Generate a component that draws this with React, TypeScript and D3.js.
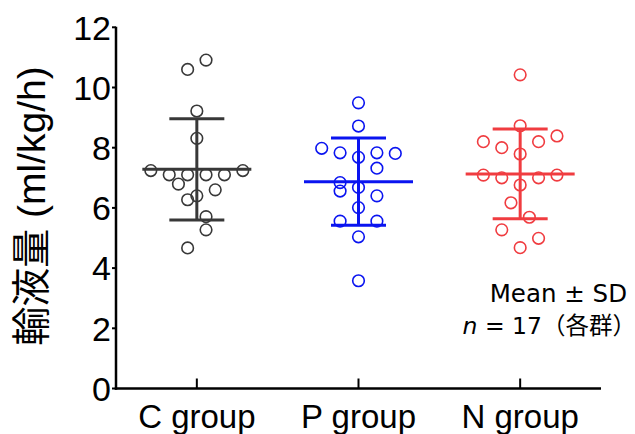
import React from "react";
import * as d3 from "d3";

const categories = ["C group", "P group", "N group"];
const colors = ["#383838", "#0a14f0", "#f03c40"];

const cValues = [10.6, 10.91, 9.22, 8.31, 7.24, 7.24, 7.1, 7.1, 7.1, 7.1, 6.79, 6.6, 6.4, 6.27, 5.71, 5.27, 4.67];
const cSlots = [-1, 1, 0, 0, -5, 5, -3, -1, 1, 3, -2, 2, 0, -1, 1, 1, -1];

const pValues = [9.49, 8.72, 7.98, 7.83, 7.68, 7.83, 7.81, 7.32, 6.84, 6.56, 6.68, 6.4, 6.01, 5.56, 5.56, 5.04, 3.58];
const pSlots = [0, 0, -4, -2, 0, 2, 4, 2, -2, -2, 0, 2, 0, -2, 2, 0, 0];

const nValues = [10.42, 8.73, 8.2, 8.2, 8.39, 8.0, 7.79, 7.09, 7.0, 7.0, 7.09, 6.76, 6.17, 5.69, 5.27, 4.99, 4.68];
const nSlots = [0, 0, -4, 2, 4, -2, 0, -4, -2, 2, 4, 0, -1, 1, -2, 2, 0];

const means = [7.28, 6.87, 7.13];
const sds = [1.68, 1.45, 1.49];

const yTicks = [0, 2, 4, 6, 8, 10, 12];

const yLabel = "輸液量 (ml/kg/h)";
const noteLine1 = "Mean ± SD";

const W = 635;
const H = 434;

export default function App() {
  const x = d3.scalePoint<string>().domain(categories).range([116, 601]).padding(0.5);
  const y = d3.scaleLinear().domain([0, 12]).range([388.5, 27.3]);
  const slotW = 9.2;
  const groups = [
    { vals: cValues, slots: cSlots },
    { vals: pValues, slots: pSlots },
    { vals: nValues, slots: nSlots },
  ];
  const sans = "'Liberation Sans', Arial, 'Noto Sans CJK JP', sans-serif";
  const x0 = 116;
  const x1 = 601;
  const y0 = y(0);

  return (
    <svg
      width={W}
      height={H}
      style={{ position: "absolute", left: 0, top: 0, background: "#fff" }}
    >
      {/* axes */}
      <line x1={x0} x2={x0} y1={y(12) - 0.5} y2={y0 + 1.2} stroke="#000" strokeWidth={2.5} />
      <line x1={x0 - 1.2} x2={x1} y1={y0} y2={y0} stroke="#000" strokeWidth={2.5} />
      {yTicks.map((t) => (
        <g key={t}>
          <line x1={x0 - 4} x2={x0} y1={y(t)} y2={y(t)} stroke="#000" strokeWidth={2} />
          <text
            x={111}
            y={y(t)}
            dy="0.36em"
            textAnchor="end"
            fontFamily={sans}
            fontSize={34}
            fill="#000"
          >
            {t}
          </text>
        </g>
      ))}
      {categories.map((c) => (
        <g key={c}>
          <line x1={x(c)!} x2={x(c)!} y1={y0} y2={y0 - 10} stroke="#000" strokeWidth={2} />
          <text
            x={x(c)!}
            y={428}
            textAnchor="middle"
            fontFamily={sans}
            fontSize={33}
            fill="#000"
          >
            {c}
          </text>
        </g>
      ))}
      {/* y label */}
      <text
        transform={`translate(45, 206) rotate(-90)`}
        textAnchor="middle"
        fontFamily={sans}
        fontSize={39}
        fill="#000"
      >
        {yLabel}
      </text>
      {/* groups */}
      {groups.map((g, gi) => {
        const cx = x(categories[gi])!;
        const col = colors[gi];
        const m = means[gi];
        const s = sds[gi];
        return (
          <g key={gi}>
            {g.vals.map((v, i) => (
              <circle
                key={i}
                cx={cx + g.slots[i] * slotW}
                cy={y(v)}
                r={5.8}
                fill="none"
                stroke={col}
                strokeWidth={1.6}
              />
            ))}
            <line x1={cx} x2={cx} y1={y(m + s)} y2={y(m - s)} stroke={col} strokeWidth={3} />
            <line x1={cx - 54.5} x2={cx + 54.5} y1={y(m)} y2={y(m)} stroke={col} strokeWidth={3} />
            <line x1={cx - 27.5} x2={cx + 27.5} y1={y(m + s)} y2={y(m + s)} stroke={col} strokeWidth={3} />
            <line x1={cx - 27.5} x2={cx + 27.5} y1={y(m - s)} y2={y(m - s)} stroke={col} strokeWidth={3} />
          </g>
        );
      })}
      {/* note */}
      <text
        x={627}
        y={302}
        textAnchor="end"
        fontFamily="'DejaVu Sans', Verdana, sans-serif"
        fontSize={24.5}
        fill="#000"
      >
        {noteLine1}
      </text>
      <text
        x={636}
        y={334}
        textAnchor="end"
        fontFamily="'DejaVu Sans', Verdana, 'Noto Sans CJK JP', sans-serif"
        fontSize={23.5}
        fill="#000"
      >
        <tspan fontStyle="italic">n</tspan>
        <tspan> = 17</tspan>
        <tspan fontFamily="'Noto Sans CJK JP', sans-serif">（各群）</tspan>
      </text>
    </svg>
  );
}
